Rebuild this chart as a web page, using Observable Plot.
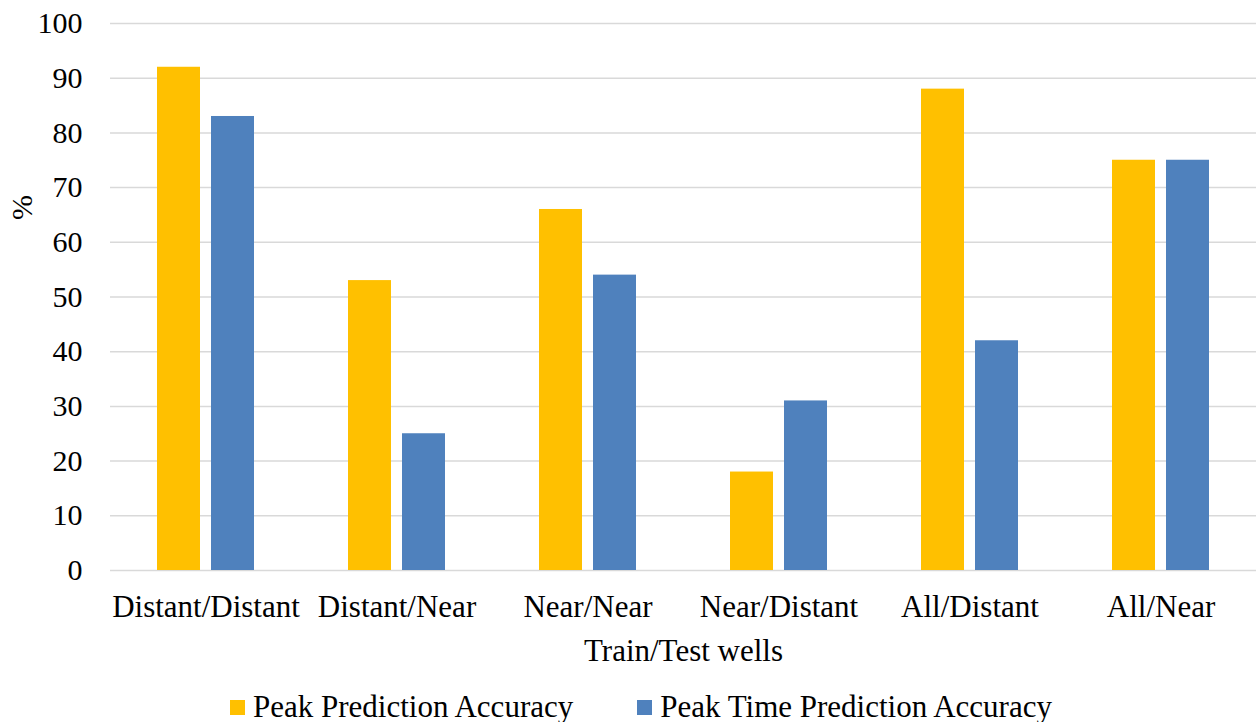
<!DOCTYPE html>
<html>
<head>
<meta charset="utf-8">
<script src="https://cdn.jsdelivr.net/npm/d3@7"></script>
<script src="https://cdn.jsdelivr.net/npm/@observablehq/plot@0.6"></script>
<style>
  html, body { margin: 0; padding: 0; background: #fff; }
  #chart { width: 1257px; font-family: "Liberation Serif", "Times New Roman", serif; }
  .legend { display: flex; align-items: center; height: 42px; padding-top: 6px; padding-left: 230px; font-size: 31px; color: #000; }
  .legend .item { display: flex; align-items: center; margin-right: 64px; }
  .legend .swatch { width: 15px; height: 15px; margin-right: 8px; }
</style>
</head>
<body>
<div id="chart"></div>
<script>
// Train/test well combinations and the two accuracy measures (%)
const categories = ["Distant/Distant", "Distant/Near", "Near/Near", "Near/Distant", "All/Distant", "All/Near"];
const seriesNames = ["Peak Prediction Accuracy", "Peak Time Prediction Accuracy"];
const peakAccuracy = [92, 53, 66, 18, 88, 75];
const peakTimeAccuracy = [83, 25, 54, 31, 42, 75];
const yTicks = [0, 10, 20, 30, 40, 50, 60, 70, 80, 90, 100];
const colors = ["#FFC000", "#4F81BD"];

const rows = categories.flatMap((c, i) => [
  {group: c, series: seriesNames[0], value: peakAccuracy[i]},
  {group: c, series: seriesNames[1], value: peakTimeAccuracy[i]}
]);

const font = '"Liberation Serif", "Times New Roman", serif';

const plot = Plot.plot({
  width: 1257,
  height: 680,
  marginTop: 23,
  marginBottom: 110,
  marginLeft: 110,
  marginRight: 1,
  style: {fontFamily: font, fontSize: "30px", color: "#000", background: "#fff"},
  fx: {domain: categories, padding: 0, label: null},
  x: {domain: seriesNames, paddingInner: 0.204, paddingOuter: 0.87, axis: null},
  y: {domain: [0, 100], ticks: yTicks, label: null},
  color: {domain: seriesNames, range: colors},
  marks: [
    Plot.gridY(yTicks, {stroke: "#d9d9d9", strokeOpacity: 1, strokeWidth: 1.5}),
    Plot.barY(rows, {fx: "group", x: "series", y: "value", fill: "series"}),
    Plot.axisY(yTicks, {tickSize: 0, tickPadding: 28, fontSize: 30, label: null}),
    Plot.axisFx({anchor: "bottom", tickSize: 0, tickPadding: 24, fontSize: 31, label: "Train/Test wells", labelAnchor: "center", labelOffset: 90}),
    Plot.text(["%"], {frameAnchor: "left", dx: -88, dy: -77, rotate: -90, fontSize: 30, facet: "super"})
  ]
});

const chart = document.getElementById("chart");
chart.appendChild(plot);

// Legend below the plot
const legend = document.createElement("div");
legend.className = "legend";
seriesNames.forEach((name, i) => {
  const item = document.createElement("div");
  item.className = "item";
  const sw = document.createElement("span");
  sw.className = "swatch";
  sw.style.background = colors[i];
  const label = document.createElement("span");
  label.textContent = name;
  item.appendChild(sw);
  item.appendChild(label);
  legend.appendChild(item);
});
chart.appendChild(legend);
</script>
</body>
</html>
